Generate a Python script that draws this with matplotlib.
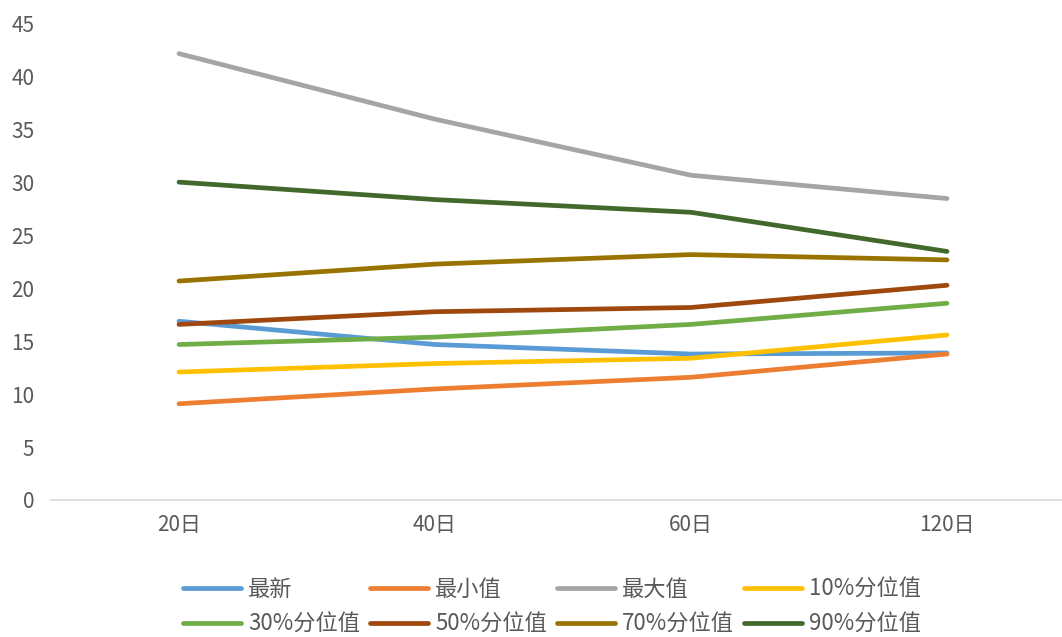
import matplotlib
matplotlib.use("Agg")
import matplotlib.pyplot as plt

plt.rcParams['font.family'] = ['Noto Sans CJK SC', 'DejaVu Sans']

categories = ["20日", "40日", "60日", "120日"]
series_names = ["最新", "最小值", "最大值", "10%分位值", "30%分位值", "50%分位值", "70%分位值", "90%分位值"]
latest = [16.9, 14.7, 13.8, 13.9]
minimum = [9.1, 10.5, 11.6, 13.8]
maximum = [42.2, 36.0, 30.7, 28.5]
p10 = [12.1, 12.9, 13.4, 15.6]
p30 = [14.7, 15.4, 16.6, 18.6]
p50 = [16.6, 17.8, 18.2, 20.3]
p70 = [20.7, 22.3, 23.2, 22.7]
p90 = [30.05, 28.4, 27.2, 23.5]
values = [latest, minimum, maximum, p10, p30, p50, p70, p90]
colors = ["#5B9BD5", "#ED7D31", "#A5A5A5", "#FFC000", "#70AD47", "#9E480E", "#997300", "#43682B"]

fig = plt.figure(figsize=(10.62, 6.37), dpi=100)
ax = fig.add_axes([51/1062, 137/637, 1011/1062, 476/637])

x = list(range(len(categories)))
handles = []
for name, vals, c in zip(series_names, values, colors):
    h, = ax.plot(x, vals, color=c, lw=3.4, solid_capstyle='round', solid_joinstyle='round', label=name)
    handles.append(h)

ax.set_xlim(-0.5, -0.5 + 1011/256)
ax.set_ylim(0, 45)
ax.set_yticks(range(0, 46, 5))
ax.set_xticks(x)
ax.set_xticklabels(categories)
for s in ["top", "right", "left"]:
    ax.spines[s].set_visible(False)
ax.spines["bottom"].set_color("#D9D9D9")
ax.spines["bottom"].set_linewidth(1.2)
ax.tick_params(axis='both', length=0, labelsize=15, colors="#595959")
ax.tick_params(axis='y', pad=12)
ax.tick_params(axis='x', pad=10)

# reorder so legend fills row-wise
order = [0, 4, 1, 5, 2, 6, 3, 7]
fig.legend(handles=[handles[i] for i in order], labels=[series_names[i] for i in order],
           ncol=4, loc='center',
           bbox_to_anchor=(552/1062, 30/637), frameon=False, fontsize=16,
           handlelength=2.6, handletextpad=0.32, columnspacing=0.45,
           labelspacing=0.55, labelcolor="#595959")

fig.savefig("out.png", dpi=100)
